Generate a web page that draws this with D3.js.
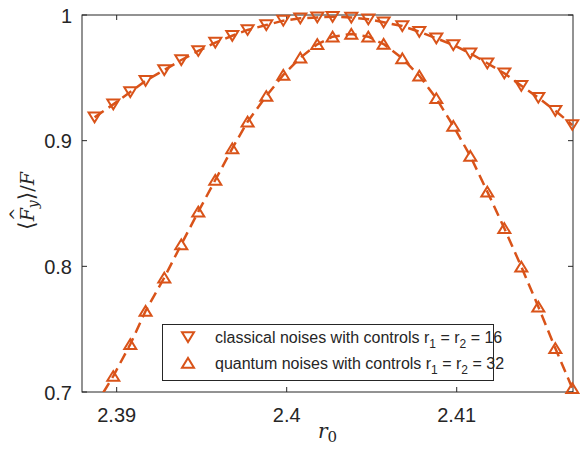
<!DOCTYPE html>
<html>
<head>
<meta charset="utf-8">
<script src="https://cdn.jsdelivr.net/npm/d3@7"></script>
<style>
  body { margin: 0; background: #fff; }
  text { font-family: "Liberation Sans", Arial, sans-serif; fill: #262626; }
  .math { font-family: "DejaVu Serif", "Liberation Serif", serif; }
</style>
</head>
<body>
<div id="chart"></div>
<script>
// r0 values (same grid for both series)
var r0 = [2.3887, 2.3898, 2.3908, 2.3917, 2.3928, 2.3938, 2.3948, 2.3958, 2.3968, 2.3977,
          2.3988, 2.3998, 2.4008, 2.4018, 2.4027, 2.4038, 2.4048, 2.4057, 2.4068, 2.4078,
          2.4088, 2.4098, 2.4108, 2.4118, 2.4128, 2.4138, 2.4148, 2.4158, 2.4168];
var classical = [0.9186, 0.9289, 0.9387, 0.9477, 0.9562, 0.9642, 0.9714, 0.9780, 0.9835, 0.9881,
                 0.9920, 0.9955, 0.9974, 0.9981, 0.9986, 0.9980, 0.9966, 0.9942, 0.9912, 0.9867,
                 0.9815, 0.9761, 0.9695, 0.9616, 0.9536, 0.9437, 0.9342, 0.9238, 0.9125];
var quantum = [0.6880, 0.7127, 0.7380, 0.7645, 0.7910, 0.8174, 0.8435, 0.8687, 0.8939, 0.9151,
               0.9355, 0.9523, 0.9660, 0.9767, 0.9827, 0.9849, 0.9827, 0.9769, 0.9655, 0.9517,
               0.9337, 0.9117, 0.8878, 0.8594, 0.8303, 0.7997, 0.7679, 0.7348, 0.7030];
var xTicks = [2.39, 2.40, 2.41];
var yTicks = [0.7, 0.8, 0.9, 1.0];
var seriesNames = ["classical noises with controls r", "quantum noises with controls r"];
var seriesR = ["16", "32"];

var width = 580, height = 452;
var color = "#D95319";

var svg = d3.select("#chart").append("svg")
    .attr("width", width)
    .attr("height", height);

var x = d3.scaleLinear().domain([2.38796, 2.41684]).range([82, 573]);
var y = d3.scaleLinear().domain([0.7, 1]).range([392, 15]);
var x0 = x.range()[0], x1 = x.range()[1], yb = y.range()[0], yt0 = y.range()[1];

svg.append("clipPath").attr("id", "plot")
  .append("rect")
    .attr("x", x0).attr("y", yt0)
    .attr("width", x1 - x0)
    .attr("height", yb - yt0);

// axes box with inward ticks on all sides
var tickLen = 5;
var axes = svg.append("g").attr("class", "axes");
axes.append("rect")
    .attr("x", x0).attr("y", yt0)
    .attr("width", x1 - x0).attr("height", yb - yt0)
    .attr("fill", "none").attr("stroke", "#262626").attr("stroke-width", 1);

xTicks.forEach(function (t) {
  axes.append("line").attr("x1", x(t)).attr("x2", x(t)).attr("y1", yb).attr("y2", yb - tickLen)
      .attr("stroke", "#262626");
  axes.append("line").attr("x1", x(t)).attr("x2", x(t)).attr("y1", yt0).attr("y2", yt0 + tickLen)
      .attr("stroke", "#262626");
  axes.append("text").attr("x", x(t)).attr("y", 422)
      .attr("text-anchor", "middle").style("font-size", "20px")
      .text(d3.format("~g")(t));
});
yTicks.forEach(function (t) {
  axes.append("line").attr("x1", x0).attr("x2", x0 + tickLen).attr("y1", y(t)).attr("y2", y(t))
      .attr("stroke", "#262626");
  axes.append("line").attr("x1", x1).attr("x2", x1 - tickLen).attr("y1", y(t)).attr("y2", y(t))
      .attr("stroke", "#262626");
  axes.append("text").attr("x", 72).attr("y", y(t) + 7.5)
      .attr("text-anchor", "end").style("font-size", "20px")
      .text(d3.format("~g")(t));
});

// lines + markers
var line = d3.line()
    .x(function (d) { return x(d[0]); })
    .y(function (d) { return y(d[1]); });

var seriesData = [classical, quantum];
var tri = [
  "M-6,-4.8L6,-4.8L0,5Z",   // down
  "M-6,4.8L6,4.8L0,-5Z"     // up
];

seriesData.forEach(function (vals, k) {
  var pts = r0.map(function (r, i) { return [r, vals[i]]; });
  svg.append("path")
      .datum(pts)
      .attr("clip-path", "url(#plot)")
      .attr("d", line)
      .attr("fill", "none")
      .attr("stroke", color)
      .attr("stroke-width", 2.5)
      .attr("stroke-dasharray", "11,6");
  svg.append("g").selectAll("path")
      .data(pts.filter(function (p) { return p[1] >= 0.7 && p[1] <= 1; }))
      .enter().append("path")
      .attr("transform", function (d) { return "translate(" + x(d[0]) + "," + y(d[1]) + ")"; })
      .attr("d", tri[k])
      .attr("fill", "none")
      .attr("stroke", color)
      .attr("stroke-width", 2);
});

// legend
var lg = svg.append("g");
lg.append("rect").attr("x", 162.5).attr("y", 324.5).attr("width", 331).attr("height", 56)
    .attr("fill", "#fff").attr("stroke", "#262626").attr("stroke-width", 1);
seriesNames.forEach(function (name, k) {
  var cy = 337 + k * 26;
  lg.append("path").attr("transform", "translate(188," + cy + ")")
      .attr("d", tri[k]).attr("fill", "none").attr("stroke", color).attr("stroke-width", 2);
  var t = lg.append("text").attr("x", 215).attr("y", cy + 5.5).style("font-size", "16px");
  t.append("tspan").text(name);
  t.append("tspan").attr("dy", 5).style("font-size", "12px").text("1");
  t.append("tspan").attr("dy", -5).text(" = r");
  t.append("tspan").attr("dy", 5).style("font-size", "12px").text("2");
  t.append("tspan").attr("dy", -5).text(" = " + seriesR[k]);
});

// x label
var xl = svg.append("text").attr("class", "math").attr("x", 318).attr("y", 438).style("font-size", "20px");
xl.append("tspan").style("font-style", "italic").text("r");
xl.append("tspan").attr("dy", 4).style("font-size", "15px").text("0");

// y label
var yl = svg.append("g").attr("transform", "translate(34,201) rotate(-90)");
var yt = yl.append("text").attr("class", "math").attr("text-anchor", "middle").style("font-size", "19px");
yt.append("tspan").style("font-size", "22px").text("\u27E8");
yt.append("tspan").style("font-style", "italic").text("F");
yt.append("tspan").attr("dy", 4).style("font-size", "14px").style("font-style", "italic").text("y");
yt.append("tspan").attr("dy", -4).style("font-size", "22px").text("\u27E9");
yt.append("tspan").text("/");
yt.append("tspan").style("font-style", "italic").text("F");
yl.append("text").attr("class", "math").attr("x", -20).attr("y", -12).style("font-size", "16px").text("^");
</script>
</body>
</html>
